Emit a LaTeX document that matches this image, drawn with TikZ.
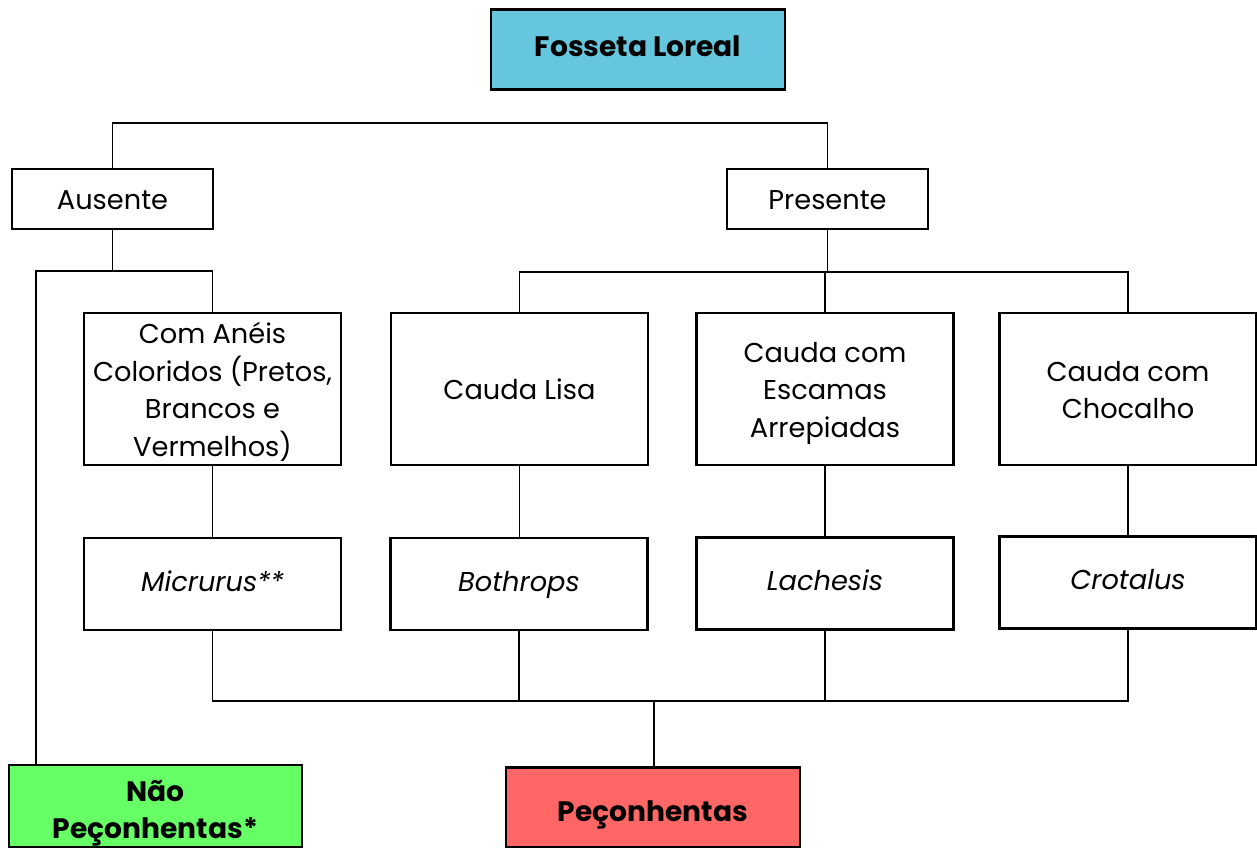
\documentclass[tikz,border=0pt]{standalone}
\usepackage{fontspec}
\setmainfont{Poppins}
\definecolor{azul}{RGB}{102,198,221}
\definecolor{verde}{RGB}{102,255,102}
\definecolor{vermelho}{RGB}{255,102,102}
\begin{document}
\begin{tikzpicture}[x=0.02cm,y=-0.02cm,line width=1.1pt,
    caixa/.style={draw,line width=1.4pt,align=center,inner sep=0pt,font=\fontsize{15.5}{21.3}\selectfont,
      text height=16.9pt,text depth=4.5pt},
    chave/.style={caixa,minimum width=4.02cm,minimum height=1.2cm},
    grande/.style={caixa,minimum width=5.14cm,minimum height=3.04cm},
    genero/.style={caixa,minimum width=5.14cm,minimum height=1.84cm,font=\fontsize{15.5}{21.3}\selectfont\itshape,
      text height=12.8pt},
    final/.style={caixa,minimum width=5.88cm,minimum height=1.6cm,font=\fontsize{16}{21}\selectfont\bfseries,
      text height=20.3pt}]
  \useasboundingbox (0,0) rectangle (1257,848);
  \node[final,fill=azul,text height=12.9pt] (fosseta) at (638,49.5) {Fosseta Loreal};
  \node[chave] (ausente) at (112.5,199) {Ausente};
  \node[chave] (presente) at (827.5,199) {Presente};
  \node[grande,text height=80.8pt] (aneis) at (212.5,389) {Com Anéis\\Coloridos (Pretos,\\Brancos e\\Vermelhos)};
  \node[grande] (lisa) at (519.5,389) {Cauda Lisa};
  \node[grande,text height=59.5pt] (escamas) at (825,389) {Cauda com\\Escamas\\Arrepiadas};
  \node[grande,text height=38.2pt] (chocalho) at (1128,389) {Cauda com\\Chocalho};
  \node[genero] (micrurus) at (212.5,584) {Micrurus**};
  \node[genero] (bothrops) at (519,584) {Bothrops};
  \node[genero] (lachesis) at (825,583.5) {Lachesis};
  \node[genero] (crotalus) at (1128,582.5) {Crotalus};
  \node[final,fill=verde,minimum width=5.86cm,minimum height=1.64cm,text height=41.3pt] (nao) at (155.5,806) {Não\\Peçonhentas*};
  \node[final,fill=vermelho] (peconhentas) at (653,807.5) {Peçonhentas};
  \coordinate (topo) at (0,123);
  \coordinate (ja) at (113,271);
  \coordinate (jp) at (826,272);
  \coordinate (jb) at (654,701);
  \coordinate (esq) at (36,0);
  \draw (ausente.north) |- (topo -| presente.north) -- (presente.north);
  \draw (ausente.south) -- (ausente.south |- ja);
  \draw (aneis.north) |- (esq |- ja) -- (esq |- nao.north);
  \draw (presente.south) |- (jp);
  \draw (escamas.north) -- (escamas.north |- jp);
  \draw (lisa.north) |- (jp) -| (chocalho.north);
  \draw (aneis.south) -- (micrurus.north);
  \draw (lisa.south) -- (lisa.south |- bothrops.north);
  \draw (escamas.south) -- (lachesis.north);
  \draw (chocalho.south) -- (crotalus.north);
  \draw (micrurus.south) |- (jb) -| (crotalus.south);
  \draw (bothrops.south) -- (bothrops.south |- jb);
  \draw (lachesis.south) -- (lachesis.south |- jb);
  \draw (jb) -- (jb |- peconhentas.north);
\end{tikzpicture}
\end{document}
